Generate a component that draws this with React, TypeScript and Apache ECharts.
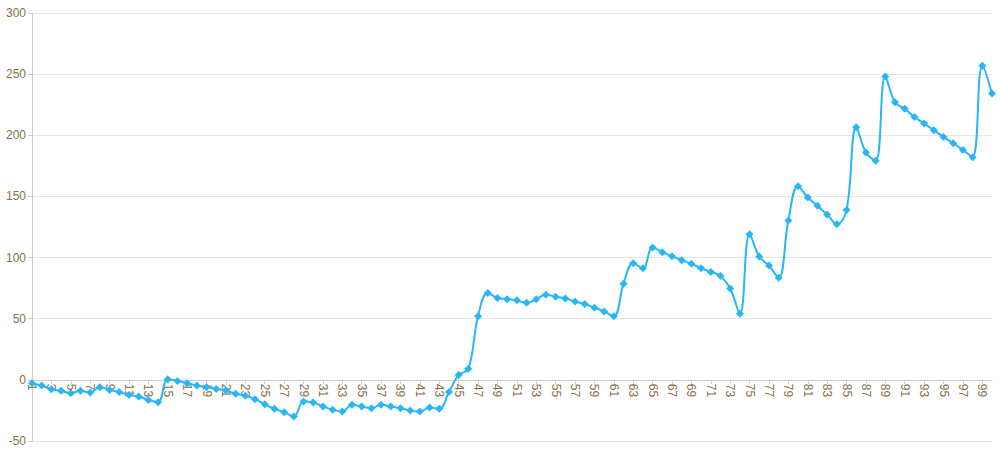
import React, { useEffect, useRef } from "react";
import * as echarts from "echarts";

const categories: string[] = Array.from({ length: 100 }, (_, i) => String(i + 1));

const values: number[] = [
  -2.7, -4.6, -7.6, -9, -10.9, -9, -10.4, -6, -8.2, -10,
  -12.3, -13.6, -16.4, -18.3, 0.5, -1, -2.7, -4.6, -6, -7.4,
  -8.7, -11.4, -13, -15.8, -19.9, -23.7, -26.4, -30, -17.7, -18.5,
  -21.8, -24.5, -25.9, -20.4, -21.8, -23.2, -20.4, -21.8, -23.2, -25,
  -25.9, -22.6, -23.7, -10, 4, 9, 52, 71, 67, 66,
  65, 63, 66, 69.5, 68, 66.5, 64, 62, 59, 56,
  52, 78.5, 95.4, 91.3, 108.2, 104.4, 101, 97.9, 94.9, 91.3,
  88.3, 85, 74.7, 54, 119.1, 100.8, 93.5, 83.4, 130.3, 158.4,
  149.1, 142.3, 135.2, 127.3, 139, 206.6, 185.9, 179.1, 248, 227,
  221.6, 215, 209.6, 204.2, 198.7, 193.5, 188, 182.1, 256.8, 234.1,
];

const yMin = -50;
const yMax = 300;
const yStep = 50;

const W = 1000;
const H = 455;
const gridTop = 13;
const gridBottom = 14;

export default function App() {
  const ref = useRef<HTMLDivElement>(null);
  useEffect(() => {
    if (!ref.current) return;
    const chart = echarts.init(ref.current, undefined, { renderer: "svg" });
    const labelColor = "#86704a";
    const plotH = H - gridTop - gridBottom;
    const zeroOffset = -((0 - yMin) / (yMax - yMin)) * plotH;
    chart.setOption({
      animation: false,
      grid: {
        left: 32,
        right: 8,
        top: gridTop,
        bottom: gridBottom,
        containLabel: false,
        outerBoundsMode: "none",
      },
      xAxis: {
        type: "category",
        data: categories,
        boundaryGap: false,
        position: "bottom",
        offset: zeroOffset,
        axisLine: { show: true, onZero: false, lineStyle: { color: "#cccccc" } },
        axisTick: { show: true, interval: 1, length: 4, lineStyle: { color: "#cccccc" } },
        axisLabel: {
          interval: 1,
          rotate: -90,
          color: labelColor,
          fontSize: 12,
          fontFamily: "Liberation Sans, Arial, sans-serif",
          margin: 4,
        },
        splitLine: { show: false },
      },
      yAxis: {
        type: "value",
        min: yMin,
        max: yMax,
        interval: yStep,
        axisLine: { show: true, lineStyle: { color: "#cccccc" } },
        axisTick: { show: true, length: 4, lineStyle: { color: "#cccccc" } },
        axisLabel: {
          color: labelColor,
          fontSize: 12,
          fontFamily: "Liberation Sans, Arial, sans-serif",
          margin: 6,
        },
        splitLine: { show: true, lineStyle: { color: "#e6e6e6" } },
      },
      series: [
        {
          type: "line",
          data: values,
          smooth: 0.4,
          symbol: "diamond",
          symbolSize: 8,
          showAllSymbol: true,
          lineStyle: { color: "#29b6f6", width: 2 },
          itemStyle: { color: "#29b6f6" },
        },
      ],
    });
    return () => chart.dispose();
  }, []);
  return <div ref={ref} style={{ width: W, height: H, position: "absolute", left: 0, top: 0 }} />;
}
